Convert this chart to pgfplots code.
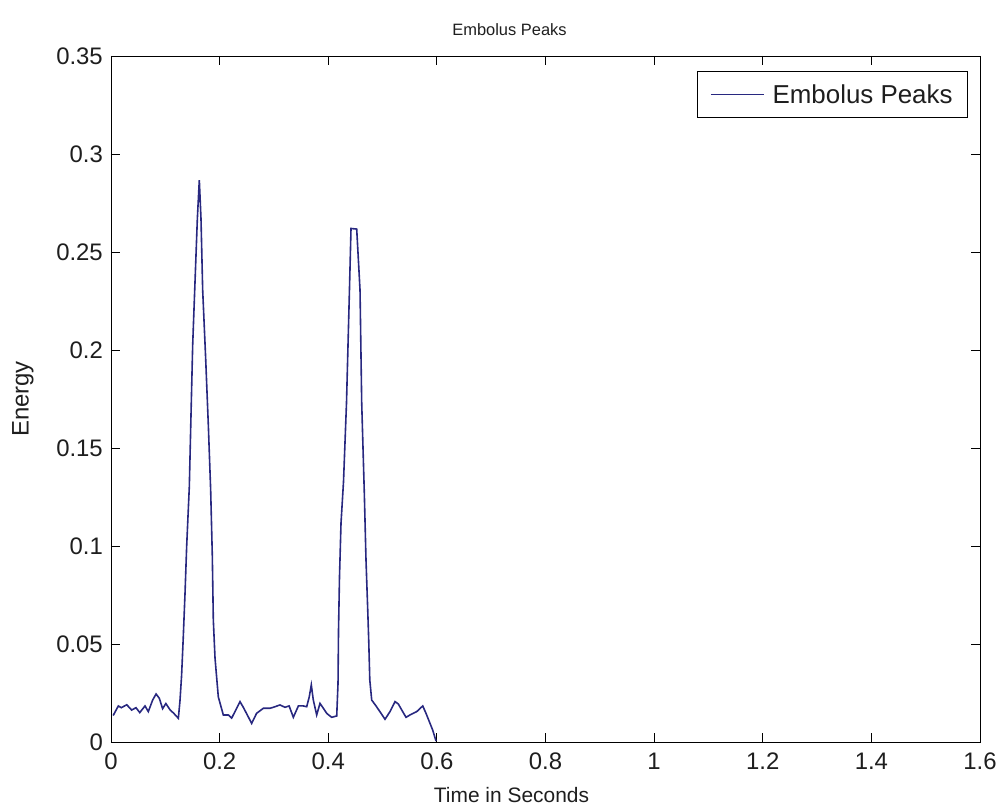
\documentclass[border=0pt]{standalone}
\usepackage{pgfplots}
\pgfplotsset{compat=1.18}
\usepackage{fontspec}
\setmainfont{Liberation Sans}

\definecolor{peakline}{RGB}{40,40,128}
\definecolor{txt}{RGB}{30,30,30}

\pgfplotstableread{
t       e
0.0040  0.0135
0.0135  0.0184
0.0190  0.0175
0.0290  0.0190
0.0380  0.0163
0.0460  0.0175
0.0530  0.0150
0.0626  0.0184
0.0687  0.0155
0.0767  0.0214
0.0830  0.0245
0.0890  0.0223
0.0950  0.0170
0.1010  0.0196
0.1090  0.0163
0.1150  0.0148
0.1240  0.0121
0.1270  0.0210
0.1300  0.0340
0.1331  0.0537
0.1363  0.0759
0.1393  0.0997
0.1442  0.1303
0.1473  0.1668
0.1504  0.2026
0.1547  0.2349
0.1590  0.2670
0.1626  0.2867
0.1657  0.2670
0.1688  0.2306
0.1743  0.1957
0.1792  0.1617
0.1835  0.1286
0.1865  0.0954
0.1884  0.0622
0.1915  0.0429
0.1946  0.0327
0.1976  0.0230
0.2068  0.0138
0.2160  0.0138
0.2222  0.0122
0.2283  0.0155
0.2375  0.0206
0.2440  0.0175
0.2590  0.0095
0.2680  0.0146
0.2805  0.0172
0.2928  0.0172
0.3020  0.0180
0.3110  0.0189
0.3204  0.0177
0.3280  0.0184
0.3357  0.0126
0.3450  0.0184
0.3540  0.0184
0.3603  0.0180
0.3651  0.0231
0.3688  0.0291
0.3725  0.0214
0.3787  0.0138
0.3848  0.0197
0.3910  0.0172
0.3972  0.0146
0.4063  0.0126
0.4156  0.0133
0.4180  0.0300
0.4189  0.0570
0.4207  0.0842
0.4235  0.1117
0.4281  0.1328
0.4336  0.1730
0.4392  0.2323
0.4419  0.2620
0.4524  0.2617
0.4585  0.2306
0.4616  0.1730
0.4664  0.1270
0.4695  0.0929
0.4727  0.0673
0.4745  0.0520
0.4765  0.0316
0.4800  0.0214
0.4890  0.0180
0.5045  0.0116
0.5137  0.0155
0.5230  0.0206
0.5290  0.0194
0.5360  0.0160
0.5432  0.0126
0.5505  0.0138
0.5629  0.0155
0.5740  0.0184
0.5800  0.0146
0.5861  0.0104
0.5923  0.0061
0.5984  0.0005
}\peaks

\begin{document}
\begin{tikzpicture}
\begin{axis}[
  at={(0,0)}, anchor=south west,
  scale only axis,
  width=869bp, height=686bp,
  xmin=0, xmax=1.6, ymin=0, ymax=0.35,
  xtick={0,0.2,...,1.6},
  ytick={0,0.05,...,0.35},
  axis line style={line width=0.9bp, black},
  tick style={line width=0.9bp, black},
  major tick length=9bp,
  tick align=inside,
  tick pos=both,
  /pgf/number format/assume math mode=true,
  /pgf/number format/fixed,
  /pgf/number format/precision=2,
  xticklabel style={font=\fontsize{24}{28}\selectfont, text=txt, inner sep=0pt, yshift=-10.5bp},
  yticklabel style={font=\fontsize{24}{28}\selectfont, text=txt, inner sep=0pt, xshift=-8bp},
  title={Embolus Peaks},
  title style={font=\fontsize{16.5}{19}\selectfont, text=txt, at={(axis description cs:0.5,1)}, anchor=center, yshift=20bp, xshift=-36bp},
  xlabel={Time in Seconds},
  xlabel style={font=\fontsize{21}{25}\selectfont, text=txt, at={(axis description cs:0.5,0)}, anchor=center, yshift=-53bp, xshift=-34bp},
  ylabel={Energy},
  ylabel style={font=\fontsize{24}{28}\selectfont, text=txt, at={(axis description cs:-0.1013,0.5)}, anchor=center},
  legend style={at={(1,1)}, anchor=north east, xshift=-12bp, yshift=-15.5bp,
    draw=black, line width=0.9bp, font=\fontsize{26}{30}\selectfont, text=txt,
    inner xsep=13bp, inner ysep=10.5bp},
  legend cell align=left,
  legend image code/.code={\draw[#1, line width=1.3bp] (0bp,0bp) -- (53bp,0bp);
    \path (59bp,0bp);},
]
\addplot[peakline, line width=1.6bp] table[x=t, y=e] {\peaks};
\addlegendentry{Embolus Peaks}
\end{axis}
\path[use as bounding box] (-111bp,-67bp) rectangle (890bp,742bp);
\end{tikzpicture}
\end{document}
